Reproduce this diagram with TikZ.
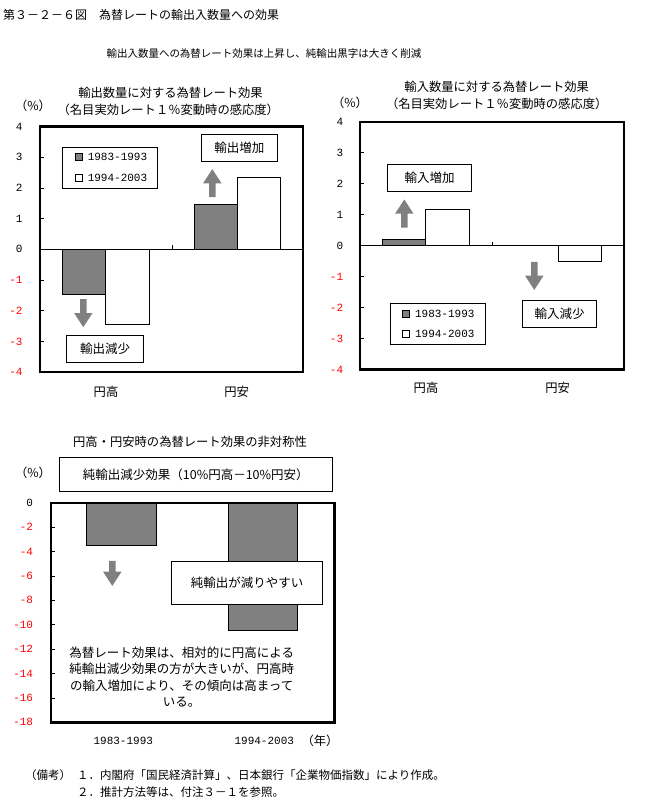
\documentclass[tikz,border=0pt]{standalone}
\usepackage{fontspec}
\setmainfont{Noto Sans CJK JP}
\newfontfamily\numfont{Liberation Mono}
\usetikzlibrary{shapes.arrows,positioning}
\definecolor{barfill}{HTML}{808080}

\begin{document}
\begin{tikzpicture}[x=1pt, y=-1pt]
        \tikzstyle{plotframe} = [draw, line width=2.4pt]
        \tikzstyle{bardark} = [draw, line width=0.8pt, fill=barfill]
        \tikzstyle{barlight} = [draw, line width=0.8pt, fill=white]
        \tikzstyle{notebox} = [rectangle, draw, line width=0.8pt, fill=white, inner sep=0pt, font=\fontsize{12.5}{15}\selectfont]
        \tikzstyle{heading} = [inner sep=0pt, font=\fontsize{12.3}{15}\selectfont]
        \tikzstyle{yval} = [anchor=east, inner sep=0pt, font=\numfont\fontsize{11}{13}\selectfont]
        \tikzstyle{legsq} = [rectangle, draw, line width=0.7pt, inner sep=0pt, minimum size=7pt]
        \tikzstyle{legtxt} = [inner sep=0pt, font=\numfont\fontsize{11}{13}\selectfont]
        \tikzstyle{blockarrow} = [single arrow, fill=barfill, inner xsep=0pt, inner ysep=3pt, minimum height=28pt, single arrow head extend=6pt, single arrow tip angle=66, anchor=tail]
        \path[use as bounding box, fill=white] (0,0) rectangle (645,807);
        % titles
        \node[anchor=west, inner sep=0pt, font=\fontsize{12}{14}\selectfont] (figtitle) at (3,15) {第３－２－６図　為替レートの輸出入数量への効果};
        \node[inner sep=0pt, font=\fontsize{10.5}{13}\selectfont] (subtitle) at (264,53.3) {輸出入数量への為替レート効果は上昇し、純輸出黒字は大きく削減};
        % export chart
        \node[heading] (exHead1) at (170.5,93.3) {輸出数量に対する為替レート効果};
        \node[heading] (exHead2) at (168.3,109.5) {（名目実効レート１％変動時の感応度）};
        \node[heading] (exUnit) at (33,106) {（\%）};
        \begin{scope}[shift={(0,249.3)}, y=30.7pt]
            \draw[bardark] (62.3,0) rectangle (105.7,-1.47);
            \draw[barlight] (105.7,0) rectangle (149,-2.45);
            \draw[bardark] (194.3,0) rectangle (237.7,1.45);
            \draw[barlight] (237.7,0) rectangle (280.3,2.35);
            \draw[line width=0.8pt] (40,0) -- (303,0);
            \draw[line width=0.8pt] (172,0) -- ++(0,4pt);
            \foreach \v in {-4,...,4} \draw[line width=0.8pt] (40,\v) -- ++(4pt,0);
            \draw[plotframe] (40,-4) rectangle (303,4);
            \foreach \v in {0,...,4} \node[yval] (exP\v) at (22.7,\v) {\v};
            \foreach \v [count=\i] in {-4,...,-1} \node[yval, text=red] (exN\i) at (22.7,\v) {\v};
        \end{scope}
        \node[notebox, minimum width=95pt, minimum height=41pt] (legEx) at (109.8,167.8) {};
        \node[legsq, fill=barfill] (sqEx1) at (78.7,157.3) {};
        \node[legtxt, right=5pt of sqEx1] (txEx1) {1983-1993};
        \node[legsq, fill=white] (sqEx2) at (78.7,177.7) {};
        \node[legtxt, right=5pt of sqEx2] (txEx2) {1994-2003};
        \node[notebox, minimum width=76.7pt, minimum height=27pt] (exUp) at (239.3,147.8) {輸出増加};
        \node[blockarrow, rotate=90] (arExUp) at (212.3,197.3) {};
        \node[notebox, minimum width=76.6pt, minimum height=26.6pt] (exDown) at (105,349) {輸出減少};
        \node[blockarrow, rotate=-90] (arExDn) at (83.3,299) {};
        \node[heading] (exCat1) at (106,391.7) {円高};
        \node[heading] (exCat2) at (236.7,391.7) {円安};
        % import chart
        \node[heading] (imHead1) at (496.7,87.3) {輸入数量に対する為替レート効果};
        \node[heading] (imHead2) at (496.7,103.8) {（名目実効レート１％変動時の感応度）};
        \node[heading] (imUnit) at (350,103.3) {（\%）};
        \begin{scope}[shift={(0,245.7)}, y=30.95pt]
            \draw[bardark] (382.3,0) rectangle (425.7,0.21);
            \draw[barlight] (425.7,0) rectangle (469.3,1.18);
            \draw[barlight] (558.3,0) rectangle (601.7,-0.52);
            \draw[line width=0.8pt] (360,0) -- (624,0);
            \draw[line width=0.8pt] (492.3,0) -- ++(0,4pt);
            \foreach \v in {-4,...,4} \draw[line width=0.8pt] (360,\v) -- ++(4pt,0);
            \draw[plotframe] (360,-4) rectangle (624,4);
            \foreach \v in {0,...,4} \node[yval] (imP\v) at (343.3,\v) {\v};
            \foreach \v [count=\i] in {-4,...,-1} \node[yval, text=red] (imN\i) at (343.3,\v) {\v};
        \end{scope}
        \node[notebox, minimum width=84pt, minimum height=26.7pt] (imUp) at (429.7,177.7) {輸入増加};
        \node[blockarrow, rotate=90] (arImUp) at (404.3,227.7) {};
        \node[notebox, minimum width=74.4pt, minimum height=27.3pt] (imDown) at (559.5,313.7) {輸入減少};
        \node[blockarrow, rotate=-90] (arImDn) at (534.3,261.7) {};
        \node[notebox, minimum width=95.7pt, minimum height=41pt] (legIm) at (437.8,323.8) {};
        \node[legsq, fill=barfill] (sqIm1) at (406,314.3) {};
        \node[legtxt, right=5pt of sqIm1] (txIm1) {1983-1993};
        \node[legsq, fill=white] (sqIm2) at (406,334) {};
        \node[legtxt, right=5pt of sqIm2] (txIm2) {1994-2003};
        \node[heading] (imCat1) at (426,388.3) {円高};
        \node[heading] (imCat2) at (557.7,388.3) {円安};
        % net export chart
        \node[heading] (netHead) at (190,441.7) {円高・円安時の為替レート効果の非対称性};
        \node[heading] (netUnit) at (33,473.3) {（\%）};
        \node[notebox, minimum width=273pt, minimum height=34pt] (netBox) at (195.8,474.3) {純輸出減少効果（10\%円高－10\%円安）};
        \begin{scope}[shift={(0,502.7)}, y=12.2pt]
            \draw[bardark] (86.7,0) rectangle (156.7,-3.5);
            \draw[bardark] (228.3,0) rectangle (297.7,-10.5);
            \foreach \v in {-18,-16,...,0} \draw[line width=0.8pt] (50.7,\v) -- ++(4pt,0);
            \draw[plotframe] (50.7,-18) rectangle (334.3,0);
            \node[yval] (netP0) at (33.3,0) {0};
            \foreach \v [count=\i] in {-18,-16,...,-2} \node[yval, text=red] (netN\i) at (33.3,\v) {\v};
        \end{scope}
        \node[blockarrow, rotate=-90, minimum height=25pt] (arNet) at (112.3,560.7) {};
        \node[notebox, minimum width=150.6pt, minimum height=43pt] (netEasy) at (247,582.8) {純輸出が減りやすい};
        \node[inner sep=0pt, align=center, font=\fontsize{12.5}{16.5}\selectfont] (netNote) at (181.7,677) {為替レート効果は、相対的に円高による\\純輸出減少効果の方が大きいが、円高時\\の輸入増加により、その傾向は高まって\\いる。};
        \node[legtxt] (netCat1) at (123.3,740.7) {1983-1993};
        \node[legtxt] (netCat2) at (264.3,740.7) {1994-2003};
        \node[heading] (netYear) at (320,740.7) {（年）};
        % notes
        \node[anchor=west, inner sep=0pt, font=\fontsize{11.5}{14}\selectfont] (noteHead) at (25,775) {（備考）};
        \node[anchor=west, inner sep=0pt, font=\fontsize{11.5}{14}\selectfont] (noteOne) at (77,775) {１．内閣府「国民経済計算」、日本銀行「企業物価指数」により作成。};
        \node[anchor=west, inner sep=0pt, font=\fontsize{11.5}{14}\selectfont] (noteTwo) at (77,791.7) {２．推計方法等は、付注３－１を参照。};
\end{tikzpicture}
\end{document}
